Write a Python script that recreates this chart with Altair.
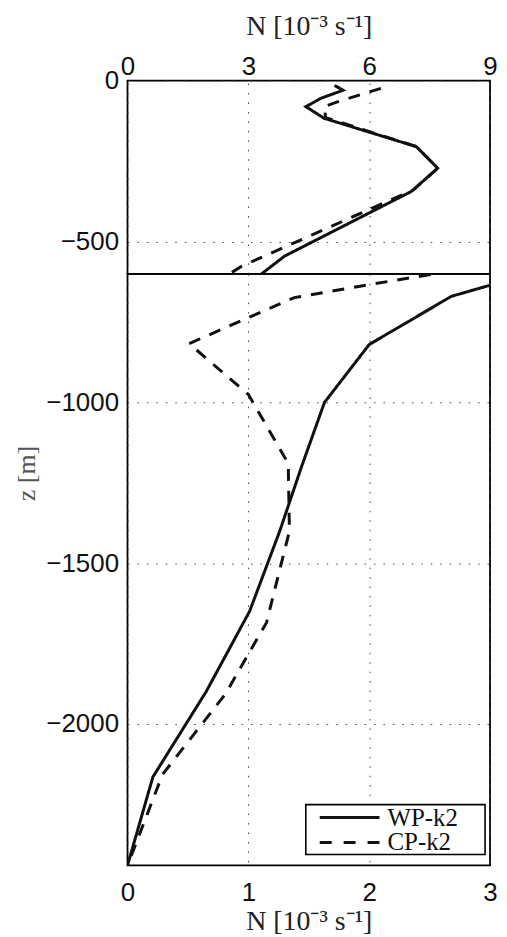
import altair as alt
import pandas as pd

# ---------------- data ----------------
series_names = ["WP-k2", "CP-k2"]

wp_z = [-15, -30, -55, -81, -117, -205, -272, -344, -545, -600, -670, -820,
        -1000, -1200, -1400, -1650, -1900, -2165, -2440]
wp_N = [5.14, 5.35, 4.80, 4.43, 4.88, 7.17, 7.70, 7.05, 3.90, 3.33, 2.68, 2.00,
        1.63, 1.44, 1.26, 1.01, 0.65, 0.21, 0.0]

cp_z = [-24, -66, -81, -115, -205, -272, -339, -576, -602, -633, -674, -817,
        -975, -1190, -1400, -1685, -1907, -2157, -2440]
cp_N = [6.29, 5.21, 4.88, 4.92, 7.17, 7.70, 7.10, 2.84, 2.51, 2.01, 1.38, 0.51,
        1.00, 1.33, 1.34, 1.15, 0.81, 0.29, 0.0]

top_x_ticks = [0, 3, 6, 9]
bottom_x_ticks = [0, 1, 2, 3]
top_z_ticks = [0, -500]
bottom_z_ticks = [-1000, -1500, -2000]
z_top, z_split, z_bottom = 0, -600, -2440
x_title = "N  [10⁻³  s⁻¹]"
y_title = "z  [m]"

rows = []
for name, zs, ns in [(series_names[0], wp_z, wp_N), (series_names[1], cp_z, cp_N)]:
    for i, (z, n) in enumerate(zip(zs, ns)):
        rows.append({"series": name, "i": i, "z": z, "N": n})
df = pd.DataFrame(rows)

# ---------------- layout ----------------
W = 364
PX_PER_M = 0.3228
H_TOP = round((z_top - z_split) * PX_PER_M)
H_BOT = round((z_split - z_bottom) * PX_PER_M)

LINE_W = 3
DASH = [12, 10]
dash_scale = alt.Scale(domain=series_names, range=[[1, 0], DASH])

lab_font = "Liberation Sans"
ttl_font = "Liberation Serif"
TTL_SIZE = 28

top = alt.Chart(df).mark_line(clip=True, color="#111", strokeWidth=LINE_W).encode(
    x=alt.X("N:Q", scale=alt.Scale(domain=[0, 9], nice=False, zero=False),
            axis=alt.Axis(orient="top", values=top_x_ticks, title=x_title, format="d",
                          labelPadding=1, titleY=-54, titleBaseline="middle")),
    y=alt.Y("z:Q", scale=alt.Scale(domain=[z_split, z_top], nice=False, zero=False),
            axis=alt.Axis(values=top_z_ticks, title=None, labelPadding=9, format="d")),
    strokeDash=alt.StrokeDash("series:N", scale=dash_scale, legend=None),
    order=alt.Order("i:Q"),
).properties(width=W, height=H_TOP)

lines_bot = alt.Chart(df).mark_line(clip=True, color="#111", strokeWidth=LINE_W).encode(
    x=alt.X("N:Q", scale=alt.Scale(domain=[0, 3], nice=False, zero=False),
            axis=alt.Axis(orient="bottom", values=bottom_x_ticks, title=x_title, format="d",
                          labelPadding=14, titleY=56, titleBaseline="middle")),
    y=alt.Y("z:Q", scale=alt.Scale(domain=[z_bottom, z_split], nice=False, zero=False),
            axis=alt.Axis(values=bottom_z_ticks, title=y_title, labelPadding=9, format="d",
                          titleX=-101, titleY=200, titleAngle=270,
                          titleAlign="center", titleBaseline="middle",
                          titleColor="#555", titleFontSize=26)),
    strokeDash=alt.StrokeDash("series:N", scale=dash_scale, legend=None),
    order=alt.Order("i:Q"),
)

# custom legend box (inside lower-right of the bottom panel)
one = pd.DataFrame({"a": [0]})
leg_box = alt.Chart(one).mark_rect(fill="white", stroke="black", strokeWidth=1.6).encode(
    x=alt.value(W - 185), x2=alt.value(W - 5), y=alt.value(H_BOT - 61), y2=alt.value(H_BOT - 11))

leg_df0 = pd.DataFrame({"series": [series_names[0]]})
leg_df1 = pd.DataFrame({"series": [series_names[1]]})
leg_line0 = alt.Chart(leg_df0).mark_rule(color="#111", strokeWidth=LINE_W).encode(
    x=alt.value(W - 171), x2=alt.value(W - 111), y=alt.value(H_BOT - 48))
leg_line1 = alt.Chart(leg_df1).mark_rule(color="#111", strokeWidth=LINE_W,
                                         strokeDash=[12, 12]).encode(
    x=alt.value(W - 171), x2=alt.value(W - 111), y=alt.value(H_BOT - 23))
leg_txt0 = alt.Chart(leg_df0).mark_text(align="left", baseline="middle", font=ttl_font,
                                        fontSize=25, color="#111").encode(
    text="series:N", x=alt.value(W - 103), y=alt.value(H_BOT - 48))
leg_txt1 = alt.Chart(leg_df1).mark_text(align="left", baseline="middle", font=ttl_font,
                                        fontSize=25, color="#111").encode(
    text="series:N", x=alt.value(W - 103), y=alt.value(H_BOT - 23))

bottom = alt.layer(lines_bot, leg_box, leg_line0, leg_line1, leg_txt0, leg_txt1).properties(
    width=W, height=H_BOT)

chart = alt.vconcat(top, bottom, spacing=0, bounds="flush").resolve_scale(
    x="independent", y="independent", strokeDash="independent"
).properties(
    padding={"left": 5, "top": 2, "right": 0, "bottom": 0},
    background="white",
).configure_view(
    stroke="black", strokeWidth=1.8
).configure_axis(
    domain=False, ticks=False, labelFlush=False,
    grid=True, gridDash=[1.5, 8], gridColor="#444", gridWidth=1, gridOpacity=1,
    labelFont=lab_font, labelFontSize=26, labelColor="#111",
    titleFont=ttl_font, titleFontSize=TTL_SIZE, titleFontWeight="normal", titleColor="#222",
)

chart.save("out.html", embed_options={"renderer": "svg", "actions": False})
